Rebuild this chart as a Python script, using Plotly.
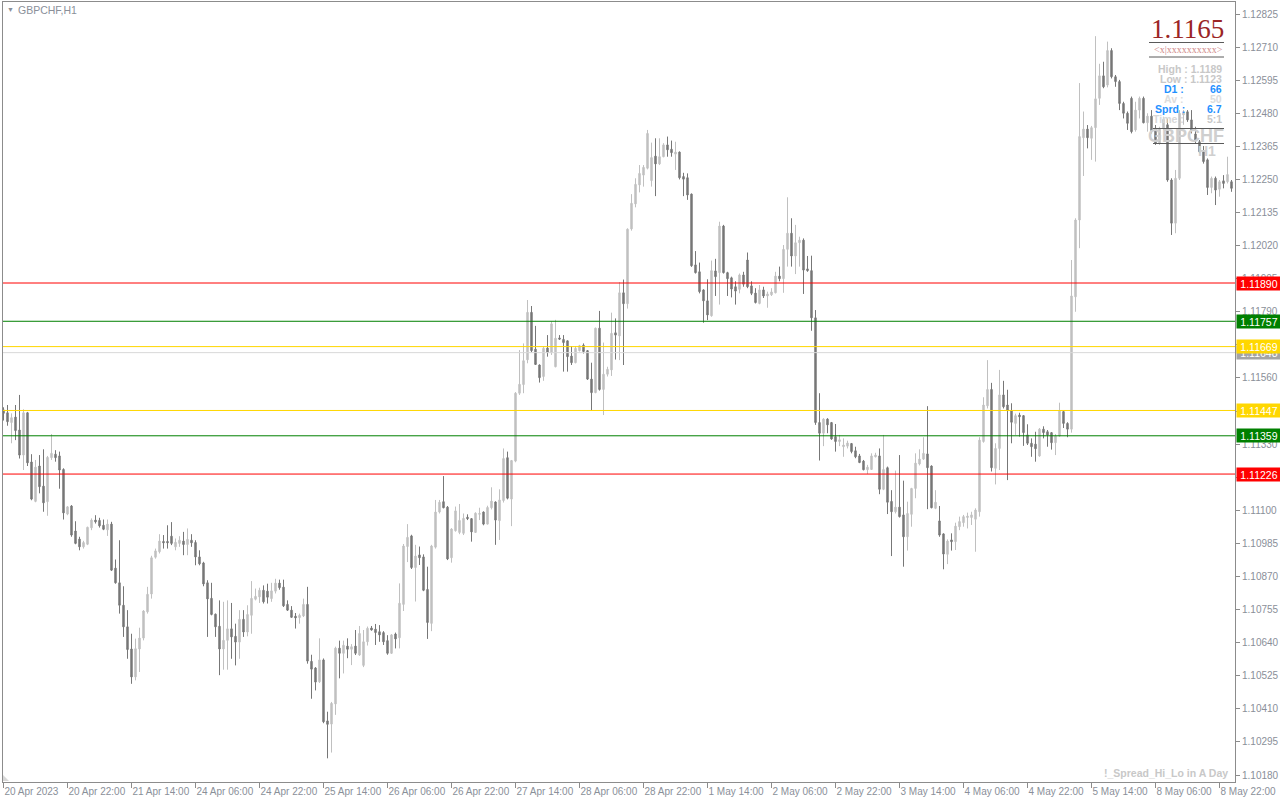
import plotly.graph_objects as go

# ---------------- data (GBPCHF H1, bar index 0 = 20 Apr 2023 06:00) ----------------
opens = [
1.11449,1.11439,1.11405,1.11424,1.11379,1.11292,1.11439,1.11268,1.11131,1.11254,
1.11184,1.11130,1.11283,1.11295,1.11289,1.11242,1.11087,1.11115,1.11028,1.11000,
1.10973,1.10982,1.11039,1.11066,1.11065,1.11048,1.11032,1.11052,1.10899,1.10848,
1.10770,1.10695,1.10618,1.10521,1.10618,1.10656,1.10747,1.10809,1.10937,1.10956,
1.10992,1.10992,1.11010,1.10973,1.10985,1.10993,1.10981,1.10996,1.10988,1.10938,
1.10917,1.10848,1.10794,1.10739,1.10697,1.10618,1.10648,1.10688,1.10662,1.10642,
1.10721,1.10677,1.10735,1.10791,1.10799,1.10822,1.10819,1.10793,1.10819,1.10847,
1.10833,1.10773,1.10753,1.10732,1.10727,1.10733,1.10773,1.10575,1.10552,1.10504,
1.10580,1.10368,1.10357,1.10427,1.10621,1.10603,1.10628,1.10617,1.10628,1.10597,
1.10561,1.10643,1.10691,1.10687,1.10678,1.10675,1.10647,1.10603,1.10670,1.10657,
1.10773,1.10974,1.11011,1.10901,1.10945,1.10938,1.10825,1.10707,1.10972,1.11094,
1.11130,1.11111,1.10935,1.11029,1.11023,1.11020,1.11076,1.11071,1.11023,1.11086,
1.11094,1.11052,1.11109,1.11129,1.11064,1.11134,1.11283,1.11139,1.11271,1.11507,
1.11537,1.11623,1.11788,1.11660,1.11605,1.11565,1.11664,1.11648,1.11599,1.11699,
1.11694,1.11689,1.11636,1.11613,1.11655,1.11674,1.11655,1.11556,1.11509,1.11733,
1.11520,1.11573,1.11588,1.11717,1.11706,1.11856,1.11818,1.12078,1.12165,1.12231,
1.12265,1.12289,1.12246,1.12331,1.12304,1.12329,1.12370,1.12355,1.12338,1.12345,
1.12260,1.12256,1.12199,1.11953,1.11929,1.11866,1.11828,1.11776,1.11932,1.11926,
1.12088,1.11926,1.11908,1.11877,1.11868,1.11918,1.11970,1.11880,1.11855,1.11819,
1.11866,1.11845,1.11849,1.11856,1.11914,1.11905,1.12007,1.12063,1.11984,1.12030,
1.12039,1.11939,1.11933,1.11769,1.11405,1.11368,1.11417,1.11405,1.11356,1.11339,
1.11321,1.11323,1.11332,1.11307,1.11289,1.11271,1.11241,1.11242,1.11286,1.11289,
1.11173,1.11248,1.11131,1.11095,1.11111,1.11084,1.11008,1.11086,1.11176,1.11261,
1.11278,1.11296,1.11254,1.11107,1.11063,1.11018,1.10947,1.10997,1.10991,1.11043,
1.11057,1.11075,1.11075,1.11069,1.11095,1.11339,1.11463,1.11520,1.11246,1.11315,
1.11501,1.11466,1.11446,1.11402,1.11431,1.11429,1.11362,1.11333,1.11330,1.11289,
1.11382,1.11373,1.11370,1.11335,1.11358,1.11443,1.11402,1.11382,1.11842,1.12109,
1.12395,1.12425,1.12393,1.12430,1.12532,1.12610,1.12578,1.12698,1.12607,1.12590,
1.12514,1.12480,1.12532,1.12422,1.12491,1.12532,1.12447,1.12470,1.12428,1.12375,
1.12428,1.12440,1.12248,1.12098,1.12254,1.12474,1.12485,1.12457,1.12408,1.12381,
1.12346,1.12318,1.12222,1.12254,1.12216,1.12245,1.12242,1.12242]
highs = [
1.11458,1.11466,1.11437,1.11466,1.11501,1.11451,1.11442,1.11295,1.11275,1.11292,
1.11312,1.11289,1.11365,1.11309,1.11304,1.11246,1.11115,1.11118,1.11062,1.11008,
1.10994,1.11043,1.11072,1.11083,1.11074,1.11068,1.11068,1.11060,1.10929,1.10996,
1.10836,1.10753,1.10671,1.10654,1.10692,1.10753,1.10834,1.10942,1.10967,1.11017,
1.11014,1.11048,1.11059,1.11002,1.11010,1.11025,1.11037,1.11017,1.10996,1.10961,
1.10921,1.10857,1.10848,1.10741,1.10787,1.10782,1.10787,1.10778,1.10706,1.10753,
1.10753,1.10770,1.10854,1.10828,1.10831,1.10839,1.10845,1.10848,1.10862,1.10859,
1.10859,1.10787,1.10767,1.10743,1.10741,1.10793,1.10834,1.10598,1.10555,1.10655,
1.10585,1.10400,1.10434,1.10626,1.10647,1.10647,1.10655,1.10635,1.10684,1.10698,
1.10684,1.10696,1.10698,1.10705,1.10701,1.10680,1.10666,1.10670,1.10675,1.10846,
1.10983,1.11052,1.11015,1.10980,1.10974,1.10947,1.10904,1.10980,1.11136,1.11136,
1.11219,1.11115,1.11038,1.11113,1.11122,1.11089,1.11086,1.11073,1.11093,1.11109,
1.11096,1.11116,1.11180,1.11131,1.11173,1.11315,1.11304,1.11275,1.11511,1.11657,
1.11680,1.11831,1.11810,1.11741,1.11607,1.11669,1.11709,1.11756,1.11762,1.11709,
1.11709,1.11690,1.11671,1.11671,1.11675,1.11680,1.11657,1.11613,1.11735,1.11793,
1.11683,1.11599,1.11787,1.11767,1.11893,1.11902,1.12080,1.12199,1.12254,1.12300,
1.12300,1.12422,1.12378,1.12393,1.12393,1.12376,1.12399,1.12385,1.12381,1.12347,
1.12273,1.12271,1.12201,1.12001,1.11961,1.11868,1.11903,1.11968,1.11974,1.12103,
1.12092,1.11929,1.11912,1.11896,1.11923,1.11929,1.11996,1.11896,1.11872,1.11883,
1.11877,1.11860,1.11872,1.11929,1.11947,1.12022,1.12188,1.12115,1.12092,1.12051,
1.12045,1.11984,1.11985,1.11796,1.11507,1.11420,1.11420,1.11407,1.11400,1.11362,
1.11350,1.11342,1.11334,1.11321,1.11296,1.11275,1.11258,1.11298,1.11300,1.11315,
1.11362,1.11252,1.11170,1.11238,1.11292,1.11203,1.11130,1.11178,1.11298,1.11312,
1.11354,1.11462,1.11256,1.11170,1.11115,1.11020,1.10999,1.11020,1.11057,1.11078,
1.11084,1.11092,1.11095,1.11107,1.11354,1.11493,1.11622,1.11543,1.11333,1.11588,
1.11550,1.11519,1.11472,1.11436,1.11439,1.11431,1.11399,1.11350,1.11373,1.11386,
1.11392,1.11379,1.11372,1.11365,1.11474,1.11445,1.11406,1.11970,1.12115,1.12585,
1.12486,1.12439,1.12436,1.12748,1.12652,1.12659,1.12729,1.12706,1.12613,1.12596,
1.12520,1.12486,1.12538,1.12520,1.12538,1.12538,1.12480,1.12491,1.12439,1.12433,
1.12468,1.12462,1.12254,1.12283,1.12491,1.12491,1.12491,1.12491,1.12433,1.12387,
1.12366,1.12323,1.12260,1.12260,1.12248,1.12265,1.12329,1.12248]
lows = [
1.11412,1.11394,1.11333,1.11344,1.11280,1.11240,1.11254,1.11135,1.11128,1.11159,
1.11095,1.11081,1.11275,1.11269,1.11175,1.11068,1.11083,1.11008,1.10982,1.10961,
1.10967,1.10979,1.11031,1.11054,1.11040,1.11031,1.11011,1.10889,1.10845,1.10741,
1.10660,1.10584,1.10497,1.10509,1.10538,1.10648,1.10741,1.10793,1.10932,1.10950,
1.10967,1.10967,1.10979,1.10961,1.10973,1.10944,1.10944,1.10973,1.10909,1.10909,
1.10836,1.10660,1.10735,1.10660,1.10527,1.10546,1.10546,1.10584,1.10561,1.10584,
1.10660,1.10662,1.10671,1.10787,1.10778,1.10776,1.10776,1.10782,1.10811,1.10824,
1.10764,1.10750,1.10727,1.10689,1.10706,1.10729,1.10567,1.10445,1.10474,1.10500,
1.10360,1.10238,1.10258,1.10389,1.10516,1.10533,1.10586,1.10562,1.10597,1.10594,
1.10555,1.10630,1.10682,1.10632,1.10643,1.10632,1.10598,1.10601,1.10620,1.10620,
1.10750,1.10920,1.10896,1.10783,1.10910,1.10819,1.10653,1.10680,1.10967,1.11089,
1.11107,1.10927,1.10918,1.11026,1.11017,1.11014,1.11066,1.10991,1.11022,1.11066,
1.11048,1.11051,1.11103,1.10980,1.10997,1.11127,1.11138,1.11045,1.11267,1.11501,
1.11507,1.11611,1.11650,1.11605,1.11544,1.11550,1.11634,1.11640,1.11597,1.11692,
1.11582,1.11582,1.11605,1.11611,1.11652,1.11645,1.11553,1.11447,1.11507,1.11516,
1.11431,1.11565,1.11567,1.11624,1.11622,1.11605,1.11801,1.12072,1.12153,1.12205,
1.12225,1.12285,1.12225,1.12192,1.12300,1.12327,1.12329,1.12329,1.12283,1.12250,
1.12192,1.12179,1.11946,1.11923,1.11854,1.11752,1.11761,1.11773,1.11845,1.11815,
1.11923,1.11845,1.11840,1.11815,1.11854,1.11877,1.11872,1.11848,1.11819,1.11816,
1.11838,1.11804,1.11845,1.11854,1.11896,1.11856,1.11947,1.11947,1.11921,1.11947,
1.11852,1.11929,1.11724,1.11397,1.11273,1.11323,1.11368,1.11345,1.11304,1.11323,
1.11286,1.11315,1.11298,1.11281,1.11264,1.11239,1.11226,1.11240,1.11284,1.11156,
1.11170,1.11087,1.10941,1.11089,1.11075,1.10904,1.10960,1.11043,1.11142,1.11256,
1.11275,1.11104,1.11107,1.11104,1.11008,1.10895,1.10913,1.10960,1.10962,1.11031,
1.11043,1.11037,1.11049,1.10956,1.11078,1.11335,1.11454,1.11235,1.11190,1.11240,
1.11454,1.11205,1.11333,1.11362,1.11356,1.11324,1.11327,1.11286,1.11269,1.11286,
1.11350,1.11321,1.11311,1.11292,1.11356,1.11386,1.11354,1.11370,1.11790,1.12011,
1.12262,1.12358,1.12318,1.12312,1.12509,1.12567,1.12570,1.12601,1.12572,1.12491,
1.12462,1.12422,1.12410,1.12416,1.12462,1.12445,1.12416,1.12410,1.12370,1.12370,
1.12422,1.12242,1.12057,1.12063,1.12248,1.12440,1.12450,1.12410,1.12375,1.12341,
1.12305,1.12196,1.12202,1.12161,1.12190,1.12219,1.12236,1.12207]
closes = [
1.11437,1.11408,1.11422,1.11377,1.11292,1.11439,1.11265,1.11139,1.11250,1.11182,
1.11126,1.11284,1.11298,1.11283,1.11240,1.11091,1.11112,1.11014,1.10985,1.10973,
1.10988,1.11041,1.11066,1.11060,1.11046,1.11034,1.11052,1.10892,1.10848,1.10770,
1.10695,1.10616,1.10521,1.10619,1.10656,1.10750,1.10808,1.10935,1.10959,1.10993,
1.10987,1.10987,1.10985,1.10989,1.10996,1.10981,1.10999,1.10987,1.10938,1.10914,
1.10844,1.10792,1.10738,1.10695,1.10618,1.10648,1.10688,1.10660,1.10642,1.10721,
1.10677,1.10738,1.10794,1.10801,1.10822,1.10782,1.10798,1.10820,1.10847,1.10831,
1.10768,1.10753,1.10728,1.10726,1.10735,1.10773,1.10576,1.10548,1.10503,1.10580,
1.10365,1.10356,1.10429,1.10621,1.10603,1.10631,1.10617,1.10626,1.10603,1.10672,
1.10643,1.10690,1.10684,1.10675,1.10667,1.10643,1.10603,1.10667,1.10653,1.10777,
1.10976,1.11006,1.10901,1.10941,1.10935,1.10822,1.10710,1.10976,1.11094,1.11128,
1.11109,1.10931,1.11035,1.11098,1.11065,1.11072,1.11071,1.11025,1.11090,1.11089,
1.11052,1.11110,1.11132,1.11066,1.11136,1.11280,1.11142,1.11273,1.11507,1.11538,
1.11620,1.11788,1.11655,1.11607,1.11561,1.11663,1.11648,1.11748,1.11698,1.11695,
1.11683,1.11634,1.11613,1.11663,1.11672,1.11652,1.11556,1.11509,1.11733,1.11520,
1.11573,1.11590,1.11715,1.11709,1.11856,1.11818,1.12077,1.12167,1.12233,1.12271,
1.12292,1.12410,1.12326,1.12304,1.12329,1.12370,1.12353,1.12343,1.12345,1.12256,
1.12251,1.12196,1.11950,1.11926,1.11860,1.11828,1.11779,1.11933,1.11912,1.12088,
1.11926,1.11905,1.11869,1.11862,1.11918,1.11886,1.11877,1.11854,1.11822,1.11866,
1.11845,1.11852,1.11859,1.11914,1.11905,1.12007,1.12063,1.11984,1.12030,1.12039,
1.11935,1.11933,1.11769,1.11405,1.11368,1.11417,1.11397,1.11348,1.11339,1.11345,
1.11327,1.11334,1.11304,1.11286,1.11266,1.11241,1.11250,1.11289,1.11292,1.11173,
1.11242,1.11128,1.11095,1.11111,1.11078,1.11008,1.11089,1.11176,1.11264,1.11278,
1.11298,1.11248,1.11109,1.11128,1.11014,1.10948,1.10993,1.10991,1.11045,1.11061,
1.11078,1.11080,1.11084,1.11101,1.11344,1.11466,1.11520,1.11248,1.11315,1.11501,
1.11460,1.11446,1.11406,1.11429,1.11425,1.11370,1.11333,1.11321,1.11314,1.11382,
1.11370,1.11362,1.11335,1.11358,1.11445,1.11402,1.11382,1.11845,1.12109,1.12399,
1.12425,1.12395,1.12430,1.12530,1.12610,1.12572,1.12698,1.12607,1.12590,1.12514,
1.12480,1.12445,1.12416,1.12491,1.12532,1.12447,1.12470,1.12420,1.12375,1.12428,
1.12459,1.12248,1.12098,1.12254,1.12480,1.12485,1.12457,1.12422,1.12387,1.12346,
1.12312,1.12222,1.12254,1.12213,1.12242,1.12236,1.12267,1.12219]

time_tick_labels = ["20 Apr 2023", "20 Apr 22:00", "21 Apr 14:00", "24 Apr 06:00",
                    "24 Apr 22:00", "25 Apr 14:00", "26 Apr 06:00", "26 Apr 22:00",
                    "27 Apr 14:00", "28 Apr 06:00", "28 Apr 22:00", "1 May 14:00",
                    "2 May 06:00", "2 May 22:00", "3 May 14:00", "4 May 06:00",
                    "4 May 22:00", "5 May 14:00", "8 May 06:00", "8 May 22:00"]
time_tick_bars = [0, 16, 32, 48, 64, 80, 96, 112, 128, 144, 160, 176, 192, 208,
                  224, 240, 256, 272, 288, 304]

price_ticks = [1.10180, 1.10295, 1.10410, 1.10525, 1.10640, 1.10755, 1.10870, 1.10985,
               1.11100, 1.11215, 1.11330, 1.11445, 1.11560, 1.11675, 1.11790, 1.11905,
               1.12020, 1.12135, 1.12250, 1.12365, 1.12480, 1.12595, 1.12710, 1.12825]

# horizontal levels (drawn in this order)
level_prices = [1.11890, 1.11757, 1.11648, 1.11669, 1.11447, 1.11359, 1.11226]
level_line_colors = ["#ff0000", "#008000", "#d8d8d8", "#ffd700", "#ffd700", "#008000", "#ff0000"]
level_tag_colors = ["#ff0000", "#008000", "#a4a4a4", "#ffd700", "#ffd700", "#008000", "#ff0000"]

# ---------------- figure ----------------
W, H = 1280, 800
ML, MR, MT, MB = 3, 45, 2, 18
PW, PH = W - ML - MR, H - MT - MB


def fx(X):
    return (X - ML) / PW


def fy(Y):
    return 1 - (Y - MT) / PH


bars = list(range(len(opens)))

fig = go.Figure()
fig.add_trace(go.Candlestick(
    x=bars, open=opens, high=highs, low=lows, close=closes,
    increasing=dict(line=dict(color="#c0c0c0", width=1), fillcolor="#c0c0c0"),
    decreasing=dict(line=dict(color="#777777", width=1), fillcolor="#777777"),
    whiskerwidth=0, showlegend=False, hoverinfo="skip",
))

shapes = []
for p, c in zip(level_prices, level_line_colors):
    shapes.append(dict(type="line", xref="paper", yref="y", x0=0, x1=1, y0=p, y1=p,
                       line=dict(color=c, width=1), layer="above"))

# indicator panel separator lines
for (x0, x1, yy) in [(1149, 1224, 42.5), (1149, 1224, 57), (1153, 1224, 128.5), (1153, 1224, 143.5)]:
    shapes.append(dict(type="line", xref="paper", yref="paper", x0=fx(x0), x1=fx(x1),
                       y0=fy(yy), y1=fy(yy), line=dict(color="#5a5a5a", width=1), layer="above"))

# small shift marker in the lower-left corner
shapes.append(dict(type="path", xref="paper", yref="paper",
                   path=f"M {fx(3)} {fy(775)} L {fx(9)} {fy(781)} L {fx(3)} {fy(781)} Z",
                   fillcolor="#d8d8d8", line=dict(width=0), layer="above"))

annotations = []
for p, c in zip(level_prices, level_tag_colors):
    annotations.append(dict(x=1, xref="paper", y=p, yref="y", xanchor="left", yanchor="middle",
                            xshift=1, text=f"{p:.5f}", showarrow=False,
                            font=dict(family="Liberation Sans", size=10.5, color="white"),
                            bgcolor=c, width=44, height=13, borderpad=0, align="center"))


def txt(X, Y, s, size, color, anchor="left", family="Liberation Sans", bold=False):
    annotations.append(dict(x=fx(X), y=fy(Y), xref="paper", yref="paper", xanchor=anchor,
                            yanchor="middle", text=(f"<b>{s}</b>" if bold else s), showarrow=False,
                            font=dict(family=family, size=size, color=color)))


txt(5, 10, "▼", 7, "#8a8f99")
txt(16, 10, "GBPCHF,H1", 10.5, "#8a8f99")
txt(1187, 29, "1.1165", 27, "#9b2525", anchor="center", family="Liberation Serif")
txt(1188, 49.5, "&lt;x|xxxxxxxxxx&gt;", 10, "#d08a8a", anchor="center", family="Liberation Serif")
txt(1224, 69, "High : 1.1189", 10.5, "#c8c8c8", anchor="right", bold=True)
txt(1224, 79, "Low : 1.1123", 10.5, "#c8c8c8", anchor="right", bold=True)
txt(1162, 89, "D1 :", 10.5, "#1e90ff", bold=True)
txt(1224, 89, "66", 10.5, "#1e90ff", anchor="right", bold=True)
txt(1162, 99, "Av :", 10.5, "#dcdcdc", bold=True)
txt(1224, 99, "50", 10.5, "#dcdcdc", anchor="right", bold=True)
txt(1153, 109, "Sprd :", 10.5, "#1e90ff", bold=True)
txt(1224, 109, "6.7", 10.5, "#1e90ff", anchor="right", bold=True)
txt(1151, 119, "Time :", 10.5, "#d8d8d8", bold=True)
txt(1224, 119, "5:1", 10.5, "#c8c8c8", anchor="right", bold=True)
txt(1186, 136, "GBPCHF", 18, "#cfcfcf", anchor="center", bold=True)
txt(1207, 150.5, "H1", 14, "#cfcfcf", anchor="center", bold=True)
txt(1230, 773, "!_Spread_Hi_Lo in A Day", 10.5, "#c8c8c8", anchor="right", bold=True)

axis_font = dict(family="Liberation Sans", size=10, color="#8a8f99")

fig.update_layout(
    width=W, height=H,
    margin=dict(l=ML, r=MR, t=MT, b=MB, pad=0, autoexpand=False),
    paper_bgcolor="white", plot_bgcolor="white",
    boxgap=0.5,
    shapes=shapes, annotations=annotations,
    xaxis=dict(range=[-0.125, 307.875], tickmode="array", tickvals=time_tick_bars,
               ticktext=time_tick_labels, ticks="outside", ticklen=5, tickcolor="#8c8c8c",
               ticklabelposition="outside right", tickangle=0, tickfont=axis_font,
               automargin=False,
               showgrid=False, zeroline=False, showline=True, mirror=True,
               linecolor="#8c8c8c", linewidth=1, rangeslider=dict(visible=False), fixedrange=True),
    yaxis=dict(side="right", range=[1.101557, 1.128667], tickmode="array", tickvals=price_ticks,
               ticktext=[f"{v:.5f}" for v in price_ticks], ticks="outside", ticklen=4,
               tickcolor="#8c8c8c", tickfont=axis_font, showgrid=False, zeroline=False,
               automargin=False,
               showline=True, mirror=True, linecolor="#8c8c8c", linewidth=1, fixedrange=True),
)

fig.write_html("out.html", config={"displayModeBar": False},
               post_script="document.body.style.margin='0';document.body.style.overflow='hidden';")
